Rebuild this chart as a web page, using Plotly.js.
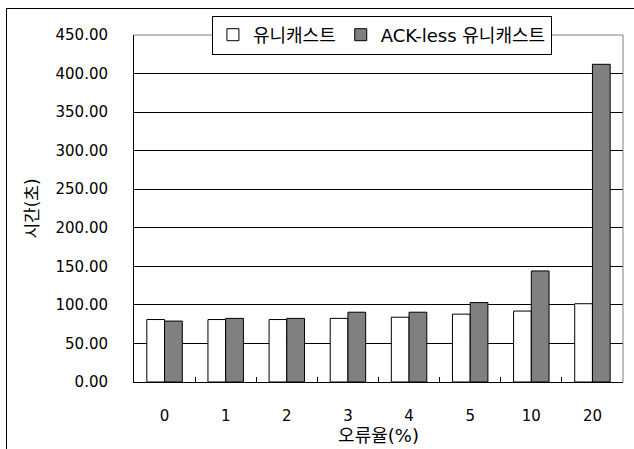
<!DOCTYPE html>
<html>
<head>
<meta charset="utf-8">
<script src="https://cdn.plot.ly/plotly-3.0.1.min.js"></script>
<style>
  html, body { margin: 0; padding: 0; background: #fff; }
  #wrap { position: relative; width: 634px; height: 449px; overflow: hidden; }
  #chart { width: 634px; height: 449px; }
  #frame { position: absolute; left: 6px; top: 8px; width: 700px; height: 500px;
           border-left: 1px solid #000; border-top: 1px solid #000; pointer-events: none; }
</style>
</head>
<body>
<div id="wrap">
  <div id="chart"></div>
  <div id="frame"></div>
</div>
<script>
const categories = ['0', '1', '2', '3', '4', '5', '10', '20'];
const seriesNames = ['유니캐스트', 'ACK-less 유니캐스트'];
const unicast = [81, 81, 81, 82.5, 84, 88, 92, 101.5];
const ackless = [79, 82.5, 82.5, 90.5, 90.5, 103, 144, 412];
const yTickVals = [0, 50, 100, 150, 200, 250, 300, 350, 400, 450];

const FONT = 'DejaVu Sans, Noto Sans CJK KR, sans-serif';

const traces = [
  { type: 'bar', name: seriesNames[0], x: categories, y: unicast,
    marker: { color: '#ffffff', line: { color: '#000000', width: 1 } } },
  { type: 'bar', name: seriesNames[1], x: categories, y: ackless,
    marker: { color: '#808080', line: { color: '#000000', width: 1 } } }
];

const layout = {
  width: 634, height: 449,
  margin: { l: 134, r: 11, t: 35, b: 67 },
  paper_bgcolor: '#ffffff', plot_bgcolor: '#ffffff',
  font: { family: FONT, size: 15, color: '#000' },
  barmode: 'group', bargap: 0.42, bargroupgap: 0,
  showlegend: true,
  legend: {
    orientation: 'h', x: 0.507, y: 1.0, xanchor: 'center', yanchor: 'middle',
    bgcolor: '#ffffff', bordercolor: '#000000', borderwidth: 1,
    font: { family: FONT, size: 18, color: '#000' },
    itemwidth: 30, tracegroupgap: 0
  },
  xaxis: {
    type: 'category', categoryorder: 'array', categoryarray: categories,
    showline: true, linecolor: '#000', linewidth: 1,
    ticks: 'inside', tickson: 'boundaries', ticklen: 5, tickcolor: '#000',
    showgrid: false, zeroline: false,
    tickfont: { family: FONT, size: 15 },
    ticklabelstandoff: 20,
    title: { text: '오류율(%)', font: { family: FONT, size: 18 }, standoff: 2 },
    automargin: false
  },
  yaxis: {
    range: [0, 450], tickvals: yTickVals, tickformat: '.2f',
    showline: true, linecolor: '#000', linewidth: 1,
    showgrid: true, gridcolor: '#000', gridwidth: 1, zeroline: false,
    ticks: '', ticklabelstandoff: 22,
    tickfont: { family: FONT, size: 15 },
    title: { text: '시간(초)', font: { family: FONT, size: 17 }, standoff: 12 },
    automargin: false
  },
  shapes: [
    { type: 'line', xref: 'paper', yref: 'paper', x0: 0, x1: 1, y0: 1, y1: 1,
      line: { color: '#808080', width: 1 } },
    { type: 'line', xref: 'paper', yref: 'paper', x0: 1, x1: 1, y0: 0, y1: 1,
      line: { color: '#808080', width: 1 } }
  ]
};

Plotly.newPlot('chart', traces, layout, { displayModeBar: false, staticPlot: true });
</script>
</body>
</html>
